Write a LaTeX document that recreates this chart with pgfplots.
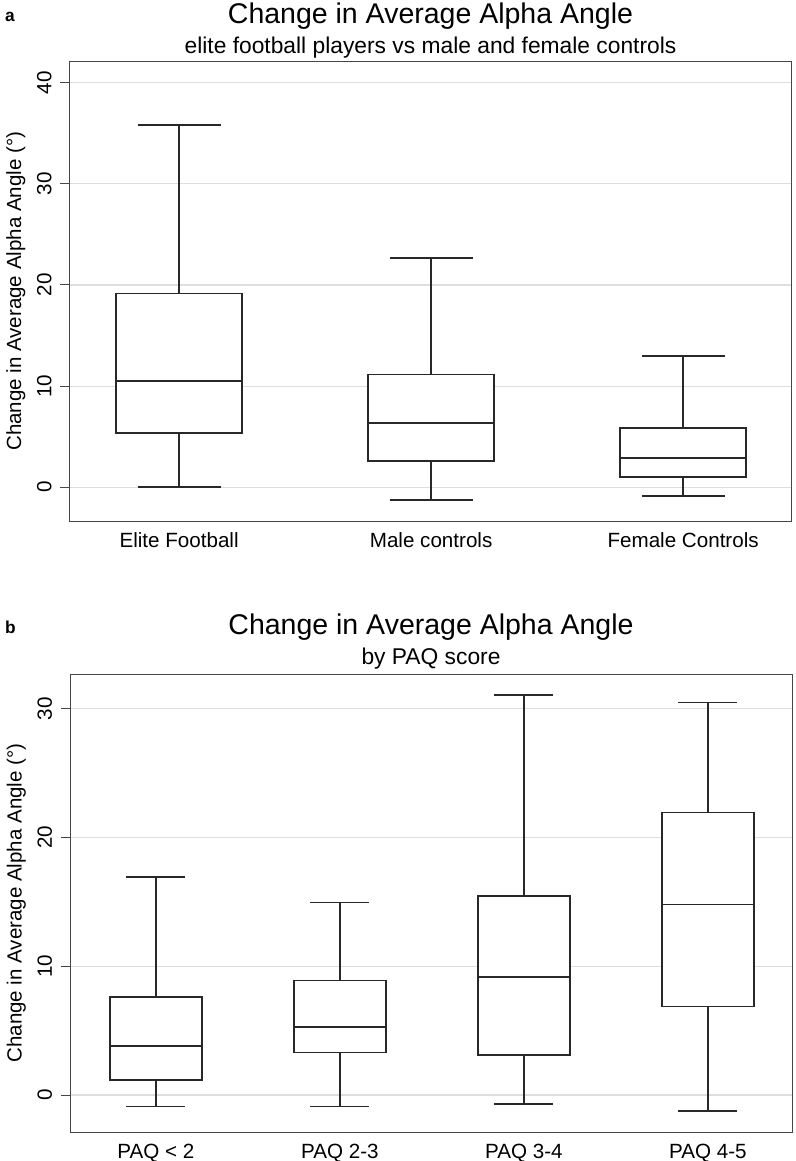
\documentclass[border=0pt]{standalone}
\usepackage{pgfplots}
\pgfplotsset{compat=1.18}
\usepgfplotslibrary{statistics}
\usepackage{fontspec}
\setmainfont{Liberation Sans}
\definecolor{boxc}{RGB}{40,40,40}
\definecolor{gridc}{RGB}{222,222,222}
\definecolor{framec}{RGB}{70,70,70}
\pgfplotsset{
  mybox/.style={
    scale only axis, width=722bp,
    axis line style={framec, line width=1bp},
    /pgf/number format/assume math mode=true,
    ymajorgrids, grid style={gridc, line width=1.2bp},
    tick pos=left, tick align=outside,
    xtick style={draw=none},
    ytick style={framec, line width=1bp},
    major tick length=9bp,
    ticklabel style={font=\fontsize{20.6bp}{24bp}\selectfont},
    yticklabel style={xshift=-9bp, rotate=90, anchor=base, inner sep=0pt},
    xticklabel style={inner sep=0pt, anchor=north, yshift=-2.5bp},
    label style={font=\fontsize{20.5bp}{24bp}\selectfont},
    boxplot/draw direction=y,
    boxplot/every median/.style={line width=1.8bp},
  },
  bx/.style={draw=boxc, fill=white, line width=1.5bp, solid, mark=none},
}
\begin{document}
\begin{tikzpicture}[x=1bp,y=1bp]
\useasboundingbox (0,0) rectangle (796,-1161);
% Panel a
\begin{axis}[mybox, at={(69.5bp,-521bp)}, anchor=south west, height=459.5bp,
  xmin=0.565, xmax=3.43, ymin=-3.34, ymax=42.1,
  ytick={0,10,20,30,40}, xtick={1,2,3},
  xticklabels={Elite Football, Male controls, Female Controls},
  ylabel={Change in Average Alpha Angle (°)},
  ylabel style={at={(axis description cs:-0.067,0.5)}, anchor=base, inner sep=0pt},
  boxplot/box extend=0.5, boxplot/whisker extend=0.33]
\addplot[bx, boxplot prepared={draw position=1, lower whisker=0, lower quartile=5.35, median=10.52, upper quartile=19.17, upper whisker=35.8}] coordinates {};
\addplot[bx, boxplot prepared={draw position=2, lower whisker=-1.26, lower quartile=2.6, median=6.34, upper quartile=11.15, upper whisker=22.67}] coordinates {};
\addplot[bx, boxplot prepared={draw position=3, lower whisker=-0.86, lower quartile=0.99, median=2.9, upper quartile=5.87, upper whisker=13.0}] coordinates {};
\end{axis}
% Panel b
\begin{axis}[mybox, at={(70bp,-1132bp)}, anchor=south west, height=458bp,
  xmin=0.533, xmax=4.457, ymin=-2.87, ymax=32.69,
  ytick={0,10,20,30}, xtick={1,2,3,4},
  xticklabels={PAQ < 2, PAQ 2-3, PAQ 3-4, PAQ 4-5},
  ylabel={Change in Average Alpha Angle (°)},
  ylabel style={at={(axis description cs:-0.067,0.5)}, anchor=base, inner sep=0pt},
  boxplot/box extend=0.5, boxplot/whisker extend=0.32]
\addplot[bx, boxplot prepared={draw position=1, lower whisker=-0.88, lower quartile=1.16, median=3.83, upper quartile=7.63, upper whisker=16.93}] coordinates {};
\addplot[bx, boxplot prepared={draw position=2, lower whisker=-0.88, lower quartile=3.29, median=5.31, upper quartile=8.9, upper whisker=14.96}] coordinates {};
\addplot[bx, boxplot prepared={draw position=3, lower whisker=-0.7, lower quartile=3.1, median=9.19, upper quartile=15.47, upper whisker=31.06}] coordinates {};
\addplot[bx, boxplot prepared={draw position=4, lower whisker=-1.24, lower quartile=6.86, median=14.8, upper quartile=21.95, upper whisker=30.46}] coordinates {};
\end{axis}
% Titles
\node[anchor=base, font=\fontsize{28.5bp}{32bp}\selectfont] at (430.5,-23.3) {Change in Average Alpha Angle};
\node[anchor=base, font=\fontsize{22.8bp}{26bp}\selectfont] at (430.5,-53.3) {elite football players vs male and female controls};
\node[anchor=base west, inner sep=0pt, font=\fontsize{17.3bp}{20bp}\selectfont\bfseries] at (5,-21) {a};
\node[anchor=base, font=\fontsize{28.5bp}{32bp}\selectfont] at (431,-634.5) {Change in Average Alpha Angle};
\node[anchor=base, font=\fontsize{22.8bp}{26bp}\selectfont] at (431,-664) {by PAQ score};
\node[anchor=base west, inner sep=0pt, font=\fontsize{17.3bp}{20bp}\selectfont\bfseries] at (5,-633.3) {b};
\end{tikzpicture}
\end{document}
